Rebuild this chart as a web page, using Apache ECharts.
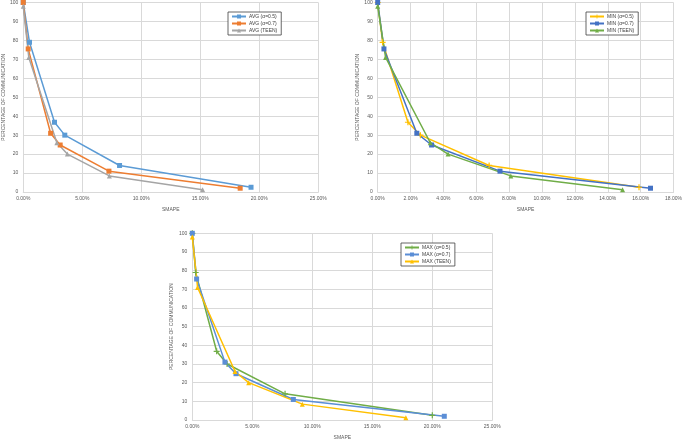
<!DOCTYPE html>
<html><head><meta charset="utf-8">
<script src="https://cdn.jsdelivr.net/npm/echarts@6/dist/echarts.min.js"></script>
<style>html,body{margin:0;padding:0;background:#fff}#c{width:685px;height:441px}</style>
</head><body><div id="c"></div>
<script>
// Y values (percentage of communication)
const yAlpha05 = [100, 79, 36.8, 30, 14, 2.5];
const yAlpha07 = [100, 75.5, 31, 24.8, 11, 2];
const yTeen = [98, 71, 26, 20, 8.5, 1.2];

// AVG chart SMAPE (%)
const avgX05 = [0, 0.53, 2.65, 3.52, 8.16, 19.3];
const avgX07 = [0, 0.42, 2.32, 3.13, 7.26, 18.38];
const avgXTeen = [0, 0.47, 2.85, 3.74, 7.3, 15.2];
// MIN chart SMAPE (%)
const minX05 = [0, 0.3, 1.84, 2.6, 6.78, 15.9];
const minX07 = [0, 0.38, 2.38, 3.28, 7.44, 16.6];
const minXTeen = [0, 0.48, 3.2, 4.28, 8.1, 14.9];
// MAX chart SMAPE (%)
const maxX05 = [0, 0.28, 2.03, 2.9, 7.73, 20.0];
const maxX07 = [0, 0.36, 2.72, 3.64, 8.42, 21.0];
const maxXTeen = [0, 0.44, 3.56, 4.7, 9.17, 17.8];

const avgNames = ['AVG (α=0.5)', 'AVG (α=0.7)', 'AVG (TEEN)'];
const minNames = ['MIN (α=0.5)', 'MIN (α=0.7)', 'MIN (TEEN)'];
const maxNames = ['MAX (α=0.5)', 'MAX (α=0.7)', 'MAX (TEEN)'];
const yTicks = [0, 10, 20, 30, 40, 50, 60, 70, 80, 90, 100];
const xAxisName = 'SMAPE';
const yAxisName = 'PERCENTAGE OF COMMUNICATION';

const FONT = 'Liberation Sans, Arial, sans-serif';
const TXT = '#595959';
const plusPath = 'path://M4,0H6V4H10V6H6V10H4V6H0V4H4Z';

function pairs(xs, ys) { return xs.map((x, i) => [x, ys[i]]); }

function xAx(gi, max, interval, nameGap) {
  return {
    gridIndex: gi, type: 'value', min: 0, max: max, interval: interval,
    name: xAxisName, nameLocation: 'middle', nameGap: nameGap,
    nameTextStyle: { fontSize: 5, color: TXT, fontFamily: FONT },
    axisLine: { show: true, lineStyle: { color: '#D9D9D9', width: 1 } },
    axisTick: { show: false },
    axisLabel: { fontSize: 5, color: TXT, fontFamily: FONT, margin: 4,
      formatter: v => v.toFixed(2) + '%' },
    splitLine: { show: true, lineStyle: { color: '#D9D9D9', width: 1 } }
  };
}
function yAx(gi, nameGap) {
  return {
    gridIndex: gi, type: 'value', min: yTicks[0], max: yTicks[yTicks.length - 1], interval: 10,
    name: yAxisName, nameLocation: 'middle', nameGap: nameGap,
    nameTextStyle: { fontSize: 5, color: TXT, fontFamily: FONT },
    axisLine: { show: false }, axisTick: { show: false },
    axisLabel: { fontSize: 5, color: TXT, fontFamily: FONT, margin: 5 },
    splitLine: { show: true, lineStyle: { color: '#D9D9D9', width: 1 } }
  };
}
function ser(name, gi, data, color, symbol, size) {
  return {
    name: name, type: 'line', xAxisIndex: gi, yAxisIndex: gi, data: data,
    symbol: symbol, symbolSize: size, showSymbol: true,
    lineStyle: { color: color, width: 1.5 }, itemStyle: { color: color },
    animation: false, z: 3
  };
}
function leg(names, left, top) {
  return {
    data: names, left: left, top: top, orient: 'vertical',
    backgroundColor: '#fff', borderColor: '#404040', borderWidth: 0.8,
    padding: [2, 4, 2, 3], itemGap: 2, itemWidth: 14, itemHeight: 5,
    textStyle: { fontSize: 5, color: '#404040', fontFamily: FONT, padding: [0, 0, 0, -2] },
    selectedMode: false
  };
}

const chart = echarts.init(document.getElementById('c'), null, { renderer: 'canvas' });
chart.setOption({
  backgroundColor: '#fff',
  animation: false,
  grid: [
    { left: 20, top: 1.7, width: 298.3, height: 190.3 },
    { left: 377.7, top: 1.7, width: 300.3, height: 190.3 },
    { left: 192.3, top: 233.3, width: 300, height: 190 }
  ],
  xAxis: [xAx(0, 25, 5, 15), xAx(1, 18, 2, 15), xAx(2, 25, 5, 15)],
  yAxis: [yAx(0, 17), yAx(1, 17.7), yAx(2, 18)],
  legend: [leg(avgNames, 228, 12), leg(minNames, 586, 12), leg(maxNames, 401, 243)],
  series: [
    ser(avgNames[0], 0, pairs(avgX05, yAlpha05), '#5B9BD5', 'rect', 5),
    ser(avgNames[1], 0, pairs(avgX07, yAlpha07), '#ED7D31', 'rect', 5),
    ser(avgNames[2], 0, pairs(avgXTeen, yTeen), '#A5A5A5', 'triangle', 5),
    ser(minNames[0], 1, pairs(minX05, yAlpha05), '#FFC000', plusPath, 6),
    ser(minNames[1], 1, pairs(minX07, yAlpha07), '#4472C4', 'rect', 5),
    ser(minNames[2], 1, pairs(minXTeen, yTeen), '#70AD47', 'triangle', 5),
    ser(maxNames[0], 2, pairs(maxX05, yAlpha05), '#70AD47', plusPath, 6),
    ser(maxNames[1], 2, pairs(maxX07, yAlpha07), '#5B8ED6', 'rect', 5),
    ser(maxNames[2], 2, pairs(maxXTeen, yTeen), '#FFC000', 'triangle', 5)
  ]
});
</script></body></html>
